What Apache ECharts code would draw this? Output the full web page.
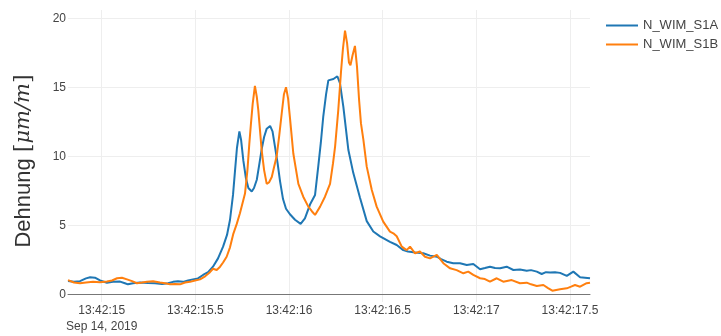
<!DOCTYPE html>
<html>
<head>
<meta charset="utf-8">
<script src="https://cdn.jsdelivr.net/npm/echarts@6/dist/echarts.min.js"></script>
<style>
html,body{margin:0;padding:0;background:#fff;}
#chart{width:721px;height:336px;}
</style>
</head>
<body>
<div id="chart"></div>
<script>
// time in seconds after 13:42:00 (Sep 14, 2019)
const timeA = [14.820,14.852,14.884,14.916,14.938,14.964,14.991,15.028,15.060,15.098,15.124,15.140,15.167,15.204,15.247,15.285,15.322,15.354,15.381,15.407,15.434,15.461,15.487,15.514,15.541,15.568,15.594,15.621,15.648,15.669,15.685,15.701,15.712,15.722,15.735,15.744,15.756,15.770,15.783,15.801,15.813,15.828,15.840,15.854,15.867,15.881,15.899,15.912,15.925,15.939,15.952,15.968,15.984,16.005,16.032,16.062,16.085,16.112,16.139,16.156,16.170,16.183,16.198,16.210,16.237,16.258,16.272,16.290,16.317,16.343,16.379,16.415,16.450,16.486,16.539,16.575,16.610,16.635,16.664,16.689,16.717,16.753,16.789,16.812,16.842,16.877,16.913,16.949,16.984,17.020,17.046,17.073,17.100,17.127,17.162,17.198,17.233,17.269,17.292,17.323,17.349,17.372,17.394,17.420,17.447,17.483,17.518,17.554,17.580,17.607];
const valuesA = [0.96,0.90,0.95,1.15,1.23,1.20,1.00,0.84,0.90,0.92,0.80,0.72,0.80,0.85,0.82,0.80,0.75,0.80,0.90,0.95,0.90,1.00,1.08,1.15,1.40,1.60,2.00,2.60,3.45,4.30,5.40,7.20,9.00,10.60,11.80,11.20,9.70,8.40,7.70,7.45,7.70,8.30,9.30,10.50,11.40,12.00,12.20,11.80,10.70,9.50,8.20,6.90,6.20,5.80,5.40,5.10,5.50,6.50,7.20,9.25,11.00,12.90,14.50,15.50,15.60,15.80,15.30,13.60,10.45,8.80,7.00,5.30,4.55,4.20,3.80,3.57,3.20,3.10,3.05,3.00,2.97,2.80,2.72,2.55,2.36,2.25,2.25,2.12,2.20,1.81,1.90,2.00,1.90,1.88,2.00,1.76,1.80,1.71,1.75,1.64,1.47,1.60,1.57,1.60,1.55,1.33,1.64,1.23,1.20,1.16];

const timeB = [14.820,14.852,14.884,14.916,14.954,14.991,15.028,15.055,15.082,15.108,15.135,15.162,15.188,15.215,15.242,15.274,15.311,15.338,15.365,15.391,15.418,15.445,15.471,15.498,15.525,15.552,15.578,15.594,15.614,15.632,15.648,15.667,15.685,15.703,15.721,15.738,15.765,15.778,15.788,15.797,15.806,15.818,15.828,15.836,15.854,15.867,15.881,15.893,15.908,15.920,15.934,15.947,15.961,15.973,15.984,15.995,16.005,16.023,16.050,16.076,16.103,16.123,16.139,16.166,16.192,16.219,16.235,16.246,16.263,16.278,16.288,16.299,16.310,16.320,16.328,16.339,16.352,16.363,16.374,16.384,16.397,16.415,16.442,16.468,16.503,16.539,16.557,16.575,16.602,16.628,16.646,16.673,16.699,16.726,16.753,16.789,16.824,16.860,16.895,16.931,16.957,16.984,17.020,17.046,17.073,17.109,17.144,17.189,17.233,17.269,17.292,17.323,17.358,17.383,17.406,17.447,17.483,17.506,17.527,17.554,17.589,17.607];
const valuesB = [1.03,0.85,0.80,0.85,0.90,0.88,0.92,1.00,1.16,1.20,1.08,0.95,0.80,0.85,0.91,0.95,0.85,0.80,0.72,0.75,0.72,0.85,0.90,1.00,1.08,1.30,1.60,1.85,1.76,2.00,2.30,2.72,3.40,4.40,5.10,5.87,7.30,9.00,10.90,12.40,13.80,15.10,14.30,13.35,10.45,9.00,8.00,8.10,8.50,9.20,10.00,11.40,13.10,14.50,15.00,14.20,12.80,10.20,8.00,7.07,6.35,6.00,5.75,6.35,7.07,8.00,9.50,10.70,13.35,16.20,17.80,19.10,18.20,16.80,16.60,17.30,18.00,16.50,14.10,12.40,11.20,9.25,7.55,6.35,5.26,4.54,4.42,4.20,3.45,3.20,3.45,2.97,3.10,2.72,2.60,2.85,2.25,1.88,1.75,1.52,1.64,1.40,1.16,1.10,0.91,1.16,0.91,1.03,0.80,0.84,0.72,0.60,0.67,0.45,0.26,0.36,0.43,0.55,0.67,0.55,0.80,0.84];

const seriesNames = ['N_WIM_S1A', 'N_WIM_S1B'];
const xTickValues = [15, 15.5, 16, 16.5, 17, 17.5];
const xTickLabels = ['13:42:15\nSep 14, 2019', '13:42:15.5', '13:42:16', '13:42:16.5', '13:42:17', '13:42:17.5'];
const yTickValues = [0, 5, 10, 15, 20];
const yTickLabels = ['0', '5', '10', '15', '20'];

const chart = echarts.init(document.getElementById('chart'), null, {renderer: 'canvas'});
const font = 'Liberation Sans';

function labelFor(values, labels, v) {
  for (let i = 0; i < values.length; i++) {
    if (Math.abs(values[i] - v) < 1e-6) return labels[i];
  }
  return '';
}

chart.setOption({
  animation: false,
  backgroundColor: '#fff',
  grid: {left: 68, right: 131, top: 10, bottom: 34, containLabel: false, outerBoundsMode: 'none'},
  legend: {
    orient: 'vertical',
    left: 606,
    top: 19,
    padding: 0,
    itemWidth: 32,
    itemHeight: 14,
    itemGap: 6,
    icon: 'path://M0,6 L32,6 L32,8 L0,8 Z',
    textStyle: {fontFamily: font, fontSize: 13, color: '#444'},
    data: seriesNames
  },
  xAxis: {
    type: 'value',
    min: 14.82,
    max: 17.607,
    axisLine: {show: true, onZero: true, lineStyle: {color: '#777', width: 1}},
    axisTick: {show: false, customValues: xTickValues},
    splitLine: {show: true, lineStyle: {color: '#eeeeee', width: 1}},
    axisLabel: {
      customValues: xTickValues,
      color: '#444',
      fontFamily: font,
      fontSize: 12,
      lineHeight: 16,
      margin: 1,
      formatter: v => labelFor(xTickValues, xTickLabels, v)
    }
  },
  yAxis: {
    type: 'value',
    min: -0.56,
    max: 20.6,
    axisLine: {show: false},
    axisTick: {show: false, customValues: yTickValues},
    splitLine: {show: true, lineStyle: {color: '#eeeeee', width: 1}},
    axisLabel: {
      customValues: yTickValues,
      color: '#444',
      fontFamily: font,
      fontSize: 12,
      margin: 2,
      formatter: v => labelFor(yTickValues, yTickLabels, v)
    },
    name: '{a|Dehnung }{b|[}{c|μm/m}{b|]}',
    nameLocation: 'middle',
    nameRotate: 90,
    nameGap: 33,
    nameTextStyle: {
      padding: [0, 10, 0, 0],
      rich: {
        a: {fontFamily: font, fontSize: 22, color: '#333'},
        b: {fontFamily: 'DejaVu Serif', fontSize: 22, color: '#333'},
        c: {fontFamily: 'DejaVu Serif', fontStyle: 'italic', fontSize: 21, color: '#333'}
      }
    }
  },
  series: [
    {
      name: seriesNames[0],
      type: 'line',
      symbol: 'none',
      color: '#1f77b4',
      lineStyle: {width: 2, color: '#1f77b4'},
      data: timeA.map((t, i) => [t, valuesA[i]])
    },
    {
      name: seriesNames[1],
      type: 'line',
      symbol: 'none',
      color: '#ff7f0e',
      lineStyle: {width: 2, color: '#ff7f0e'},
      data: timeB.map((t, i) => [t, valuesB[i]])
    }
  ]
});
</script>
</body>
</html>
